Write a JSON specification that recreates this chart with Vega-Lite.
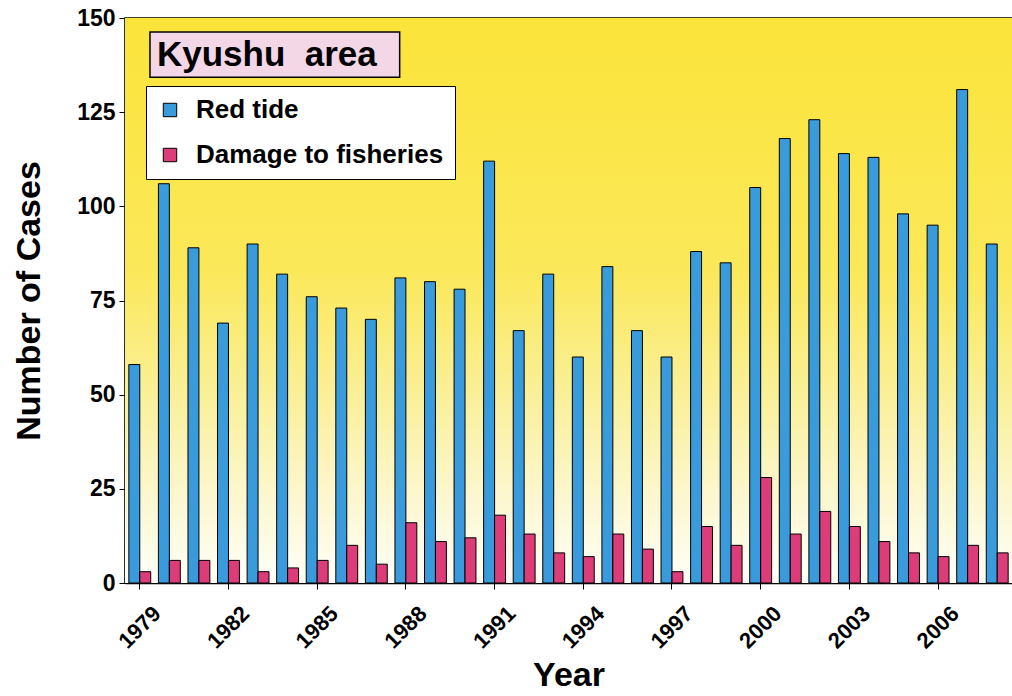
{
  "$schema": "https://vega.github.io/schema/vega-lite/v6.json",
  "width": 887,
  "height": 565,
  "autosize": "none",
  "padding": {"left": 125, "top": 18, "right": 0, "bottom": 113},
  "background": "white",
  "config": {
    "view": {"stroke": "black", "strokeWidth": 1.5},
    "font": "Liberation Sans"
  },
  "datasets": {
    "cases": [
      {"year": 1979, "series": "Red tide", "cases": 58}, {"year": 1979, "series": "Damage to fisheries", "cases": 3},
      {"year": 1980, "series": "Red tide", "cases": 106}, {"year": 1980, "series": "Damage to fisheries", "cases": 6},
      {"year": 1981, "series": "Red tide", "cases": 89}, {"year": 1981, "series": "Damage to fisheries", "cases": 6},
      {"year": 1982, "series": "Red tide", "cases": 69}, {"year": 1982, "series": "Damage to fisheries", "cases": 6},
      {"year": 1983, "series": "Red tide", "cases": 90}, {"year": 1983, "series": "Damage to fisheries", "cases": 3},
      {"year": 1984, "series": "Red tide", "cases": 82}, {"year": 1984, "series": "Damage to fisheries", "cases": 4},
      {"year": 1985, "series": "Red tide", "cases": 76}, {"year": 1985, "series": "Damage to fisheries", "cases": 6},
      {"year": 1986, "series": "Red tide", "cases": 73}, {"year": 1986, "series": "Damage to fisheries", "cases": 10},
      {"year": 1987, "series": "Red tide", "cases": 70}, {"year": 1987, "series": "Damage to fisheries", "cases": 5},
      {"year": 1988, "series": "Red tide", "cases": 81}, {"year": 1988, "series": "Damage to fisheries", "cases": 16},
      {"year": 1989, "series": "Red tide", "cases": 80}, {"year": 1989, "series": "Damage to fisheries", "cases": 11},
      {"year": 1990, "series": "Red tide", "cases": 78}, {"year": 1990, "series": "Damage to fisheries", "cases": 12},
      {"year": 1991, "series": "Red tide", "cases": 112}, {"year": 1991, "series": "Damage to fisheries", "cases": 18},
      {"year": 1992, "series": "Red tide", "cases": 67}, {"year": 1992, "series": "Damage to fisheries", "cases": 13},
      {"year": 1993, "series": "Red tide", "cases": 82}, {"year": 1993, "series": "Damage to fisheries", "cases": 8},
      {"year": 1994, "series": "Red tide", "cases": 60}, {"year": 1994, "series": "Damage to fisheries", "cases": 7},
      {"year": 1995, "series": "Red tide", "cases": 84}, {"year": 1995, "series": "Damage to fisheries", "cases": 13},
      {"year": 1996, "series": "Red tide", "cases": 67}, {"year": 1996, "series": "Damage to fisheries", "cases": 9},
      {"year": 1997, "series": "Red tide", "cases": 60}, {"year": 1997, "series": "Damage to fisheries", "cases": 3},
      {"year": 1998, "series": "Red tide", "cases": 88}, {"year": 1998, "series": "Damage to fisheries", "cases": 15},
      {"year": 1999, "series": "Red tide", "cases": 85}, {"year": 1999, "series": "Damage to fisheries", "cases": 10},
      {"year": 2000, "series": "Red tide", "cases": 105}, {"year": 2000, "series": "Damage to fisheries", "cases": 28},
      {"year": 2001, "series": "Red tide", "cases": 118}, {"year": 2001, "series": "Damage to fisheries", "cases": 13},
      {"year": 2002, "series": "Red tide", "cases": 123}, {"year": 2002, "series": "Damage to fisheries", "cases": 19},
      {"year": 2003, "series": "Red tide", "cases": 114}, {"year": 2003, "series": "Damage to fisheries", "cases": 15},
      {"year": 2004, "series": "Red tide", "cases": 113}, {"year": 2004, "series": "Damage to fisheries", "cases": 11},
      {"year": 2005, "series": "Red tide", "cases": 98}, {"year": 2005, "series": "Damage to fisheries", "cases": 8},
      {"year": 2006, "series": "Red tide", "cases": 95}, {"year": 2006, "series": "Damage to fisheries", "cases": 7},
      {"year": 2007, "series": "Red tide", "cases": 131}, {"year": 2007, "series": "Damage to fisheries", "cases": 10},
      {"year": 2008, "series": "Red tide", "cases": 90}, {"year": 2008, "series": "Damage to fisheries", "cases": 8}
    ]
  },
  "layer": [
    {
      "data": {"values": [{"part": "plot background"}]},
      "mark": {
        "type": "rect",
        "color": {
          "gradient": "linear", "x1": 0, "y1": 0, "x2": 0, "y2": 1,
          "stops": [
            {"offset": 0, "color": "#FBE43A"},
            {"offset": 0.45, "color": "#FBE85A"},
            {"offset": 0.65, "color": "#FAEF94"},
            {"offset": 0.85, "color": "#FCF7D0"},
            {"offset": 1, "color": "#FFFFF8"}
          ]
        }
      },
      "encoding": {
        "x": {"datum": 1978.5, "type": "quantitative", "scale": {"domain": [1978.5, 2008.5], "nice": false, "zero": false}, "axis": null},
        "x2": {"datum": 2008.5},
        "y": {"datum": 150, "type": "quantitative", "scale": {"domain": [0, 150], "nice": false}},
        "y2": {"datum": 0}
      }
    },
    {
      "data": {"name": "cases"},
      "mark": {"type": "bar", "stroke": "black", "strokeWidth": 1},
      "encoding": {
        "x": {
          "field": "year", "type": "ordinal",
          "scale": {"paddingInner": 0.26, "paddingOuter": 0.13},
          "axis": {
            "values": [1979, 1982, 1985, 1988, 1991, 1994, 1997, 2000, 2003, 2006],
            "title": "Year",
            "titleFontSize": 34, "titleFontWeight": "bold", "titleColor": "black", "titlePadding": 6,
            "labelAngle": -45, "labelAlign": "center", "labelBaseline": "middle",
            "labelPadding": 38, "labelFontSize": 22, "labelFontWeight": "bold", "labelColor": "black",
            "tickSize": 6, "tickColor": "black", "domainColor": "black", "domainWidth": 1.5
          }
        },
        "xOffset": {"field": "series", "type": "nominal", "scale": {"domain": ["Red tide", "Damage to fisheries"]}},
        "y": {
          "field": "cases", "type": "quantitative",
          "scale": {"domain": [0, 150], "nice": false},
          "axis": {
            "values": [0, 25, 50, 75, 100, 125, 150],
            "title": "Number of Cases",
            "titleFontSize": 34, "titleFontWeight": "bold", "titleColor": "black", "titlePadding": 30,
            "labelFontSize": 23, "labelFontWeight": "bold", "labelColor": "black", "labelPadding": 4,
            "tickSize": 6, "tickColor": "black", "domainColor": "black", "domainWidth": 1.5, "grid": false
          }
        },
        "color": {
          "field": "series", "type": "nominal",
          "scale": {"domain": ["Red tide", "Damage to fisheries"], "range": ["#3A9BDC", "#DC3C78"]},
          "legend": {
            "orient": "none", "legendX": 21, "legendY": 68, "title": null,
            "fillColor": "white", "strokeColor": "black", "padding": 11,
            "symbolType": "square", "symbolSize": 180, "symbolStrokeColor": "black", "symbolStrokeWidth": 1,
            "labelFontSize": 26, "labelFontWeight": "bold", "labelColor": "black", "labelOffset": 13,
            "rowPadding": 19, "labelLimit": 400
          }
        }
      }
    },
    {
      "data": {"values": [{"label": "Kyushu\u00a0 area"}]},
      "layer": [
        {
          "mark": {"type": "rect", "fill": "#F4D7E6", "stroke": "black", "strokeWidth": 1.5},
          "encoding": {
            "x": {"datum": 1979.345, "type": "quantitative", "scale": {"domain": [1978.5, 2008.5], "nice": false, "zero": false}, "axis": null},
            "x2": {"datum": 1987.79},
            "y": {"datum": 146.3, "type": "quantitative"},
            "y2": {"datum": 134.3}
          }
        },
        {
          "mark": {"type": "text", "align": "left", "baseline": "middle", "fontSize": 35, "fontWeight": "bold", "font": "Liberation Sans", "color": "black"},
          "encoding": {
            "x": {"datum": 1979.58, "type": "quantitative"},
            "y": {"datum": 140.3, "type": "quantitative"},
            "text": {"field": "label"}
          }
        }
      ]
    }
  ],
  "resolve": {"scale": {"x": "independent"}}
}
